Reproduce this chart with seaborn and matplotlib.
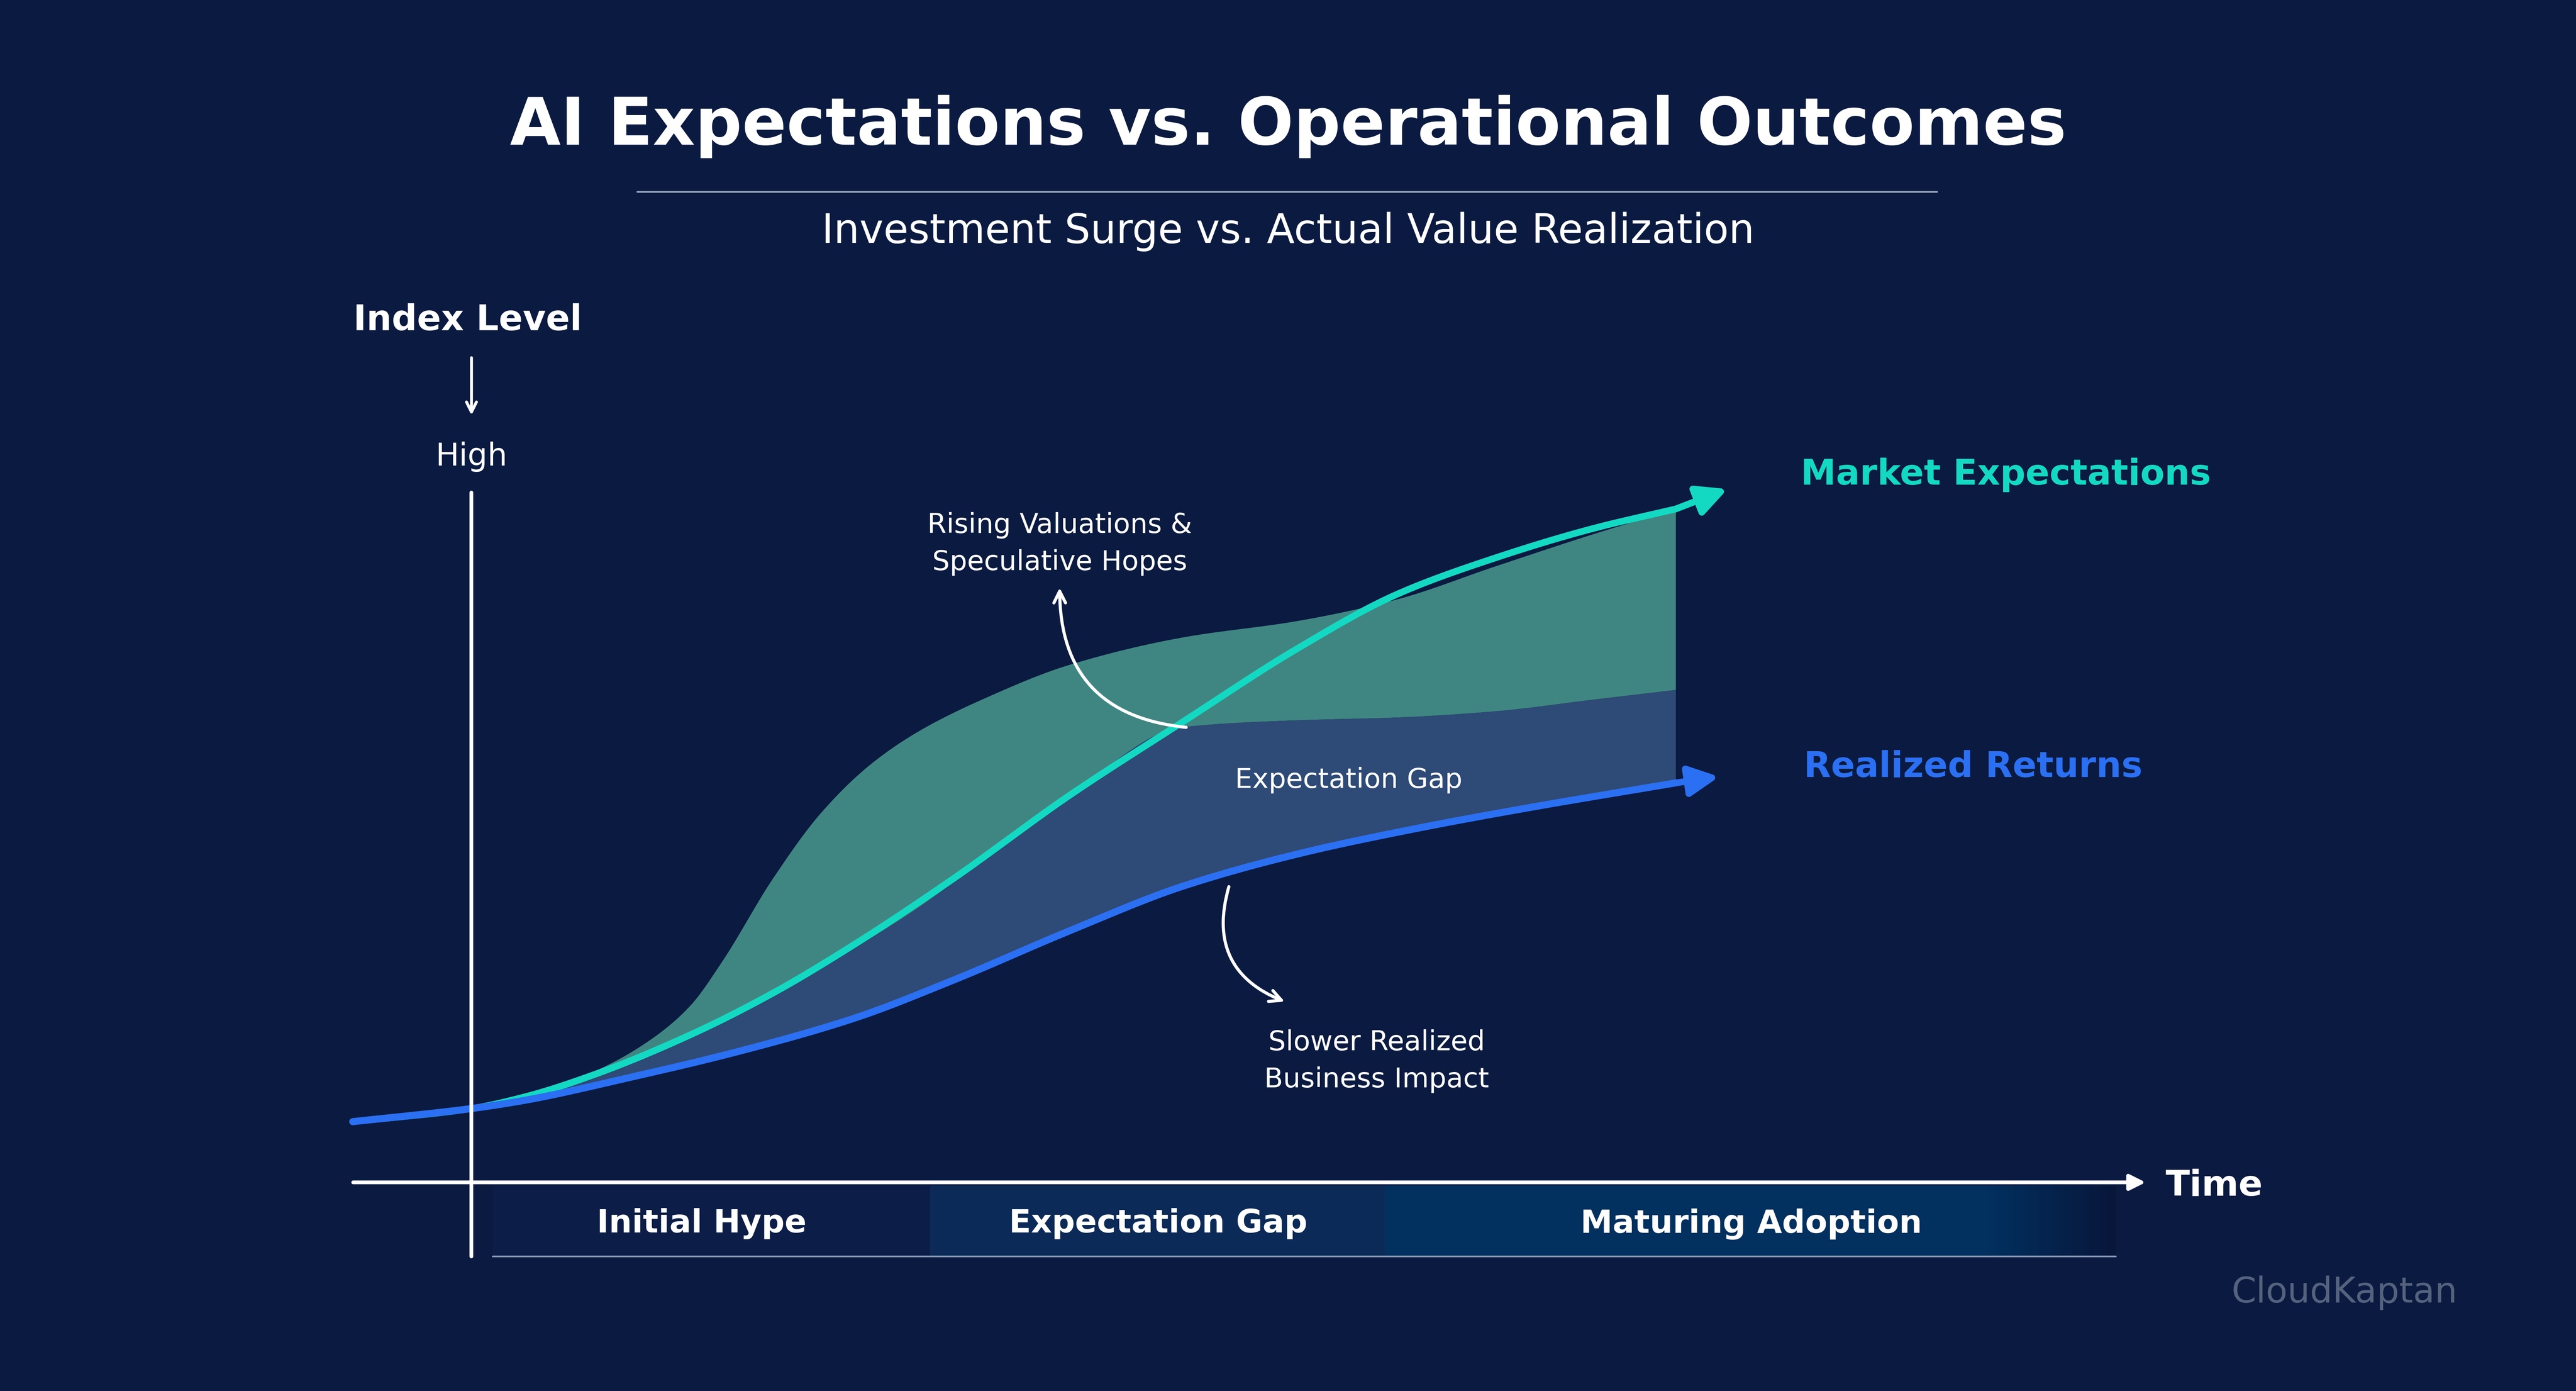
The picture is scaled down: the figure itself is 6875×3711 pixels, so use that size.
import numpy as np
import pandas as pd
import matplotlib
matplotlib.use("Agg")
import matplotlib.pyplot as plt
import seaborn as sns
from matplotlib.patches import FancyArrowPatch, Rectangle
from matplotlib.colors import LinearSegmentedColormap

sns.set_theme(style="white")
plt.rcParams['font.family'] = ['DejaVu Sans']

# ---------------- data ----------------
time_pts = [-7.1, 0, 3.2, 7.2, 13.1, 18.0, 22.9, 28.8, 35.7, 42.5, 49.4, 55.3, 61.2, 67.1, 72.0]
market_expect = [8.8, 10.7, 12.4, 15.5, 21.4, 27.4, 34.5, 44.0, 56.0, 66.7, 77.4, 85.2, 90.5, 94.8, 97.6]
market_tip = (75.1, 100.5)
real_time = [-7.1, 0, 3.2, 9.1, 16.0, 22.9, 28.8, 35.7, 42.5, 49.4, 56.3, 63.2, 72.0]
realized = [8.8, 10.7, 11.9, 15.0, 19.0, 23.8, 29.3, 36.4, 42.9, 47.6, 51.2, 54.3, 57.9]
real_tip = (74.6, 58.8)
band_time = [-7.1, 0, 4.2, 8.2, 11.1, 13.1, 15.0, 18.0, 20.9, 23.9, 26.8, 30.7, 35.7, 42.5, 49.4, 55.3, 61.2, 67.1, 72.0]
hype_envelope = [8.8, 10.7, 13.1, 17.1, 21.4, 25.7, 32.1, 44.0, 53.6, 60.7, 65.5, 70.2, 75.0, 79.0, 81.4, 84.5, 89.3, 94.0, 97.6]
gap_floor = [8.8, 10.7, 13.0, 16.8, 19.5, 21.4, 23.8, 27.4, 31.4, 35.5, 40.0, 47.0, 56.0, 66.0, 67.0, 67.4, 68.3, 70.0, 71.4]
phases = ["Initial Hype", "Expectation Gap", "Maturing Adoption"]

BG = "#0b1a40"
TEAL = "#14d9c2"
BLUE = "#2b6ff2"
GREEN_FILL = "#3f8682"
SLATE_FILL = "#2e4a76"

def pchip(x, y, n=600):
    x = np.asarray(x, float); y = np.asarray(y, float)
    h = np.diff(x); d = np.diff(y) / h
    m = np.zeros_like(y)
    for k in range(1, len(x) - 1):
        if d[k-1] * d[k] > 0:
            w1 = 2*h[k] + h[k-1]; w2 = h[k] + 2*h[k-1]
            m[k] = (w1 + w2) / (w1/d[k-1] + w2/d[k])
    m[0] = d[0]; m[-1] = d[-1]
    xs = np.linspace(x[0], x[-1], n)
    idx = np.clip(np.searchsorted(x, xs) - 1, 0, len(x) - 2)
    t = (xs - x[idx]) / h[idx]
    h00 = 2*t**3 - 3*t**2 + 1; h10 = t**3 - 2*t**2 + t
    h01 = -2*t**3 + 3*t**2; h11 = t**3 - t**2
    ys = h00*y[idx] + h10*h[idx]*m[idx] + h01*y[idx+1] + h11*h[idx]*m[idx+1]
    return xs, ys

fig = plt.figure(figsize=(17.1875, 9.28), dpi=400, facecolor=BG)
ax = fig.add_axes([0, 0, 1, 1])
ax.set_facecolor(BG)

def P(px, py):
    return ((px - 287) / 10.18, (720 - py) / 4.2)

# fills
bx, top = pchip(band_time, hype_envelope)
_, floor = pchip(band_time, gap_floor)
rx, rl = pchip(real_time, realized)
rl_i = np.interp(bx, rx, rl)
ax.fill_between(bx, floor, top, color=GREEN_FILL, lw=0, zorder=2)
ax.fill_between(bx, rl_i, floor, color=SLATE_FILL, lw=0, zorder=2)

# lines
mx, my = pchip(time_pts, market_expect)
df_m = pd.DataFrame({"t": mx, "v": my})
df_r = pd.DataFrame({"t": rx, "v": rl})
sns.lineplot(data=df_m, x="t", y="v", sort=False, color=TEAL, lw=3.2, ax=ax, zorder=4)
sns.lineplot(data=df_r, x="t", y="v", sort=False, color=BLUE, lw=3.4, ax=ax, zorder=5)
for (x0, y0), tip, c in [((time_pts[-1], market_expect[-1]), market_tip, TEAL),
                         ((real_time[-1], realized[-1]), real_tip, BLUE)]:
    ax.add_patch(FancyArrowPatch((x0, y0), tip, arrowstyle="-|>", mutation_scale=30,
                                 color=c, lw=3.2, zorder=6, shrinkA=0, shrinkB=0))

# axes lines
ax.plot(*zip(P(287, 300), P(287, 765)), color="white", lw=1.8, zorder=7)
ax.add_patch(FancyArrowPatch(P(215, 720), P(1306, 720), arrowstyle="-|>", mutation_scale=16,
                             color="white", lw=1.8, zorder=7, shrinkA=0, shrinkB=0))
ax.add_patch(FancyArrowPatch(P(287, 218), P(287, 253), arrowstyle="->", mutation_scale=12,
                             color="white", lw=1.4, zorder=7, shrinkA=0, shrinkB=0))

# bottom band
x_a = P(300, 0)[0]; x_b = P(566, 0)[0]; x_c = P(843, 0)[0]; x_d = P(1210, 0)[0]; x_e = P(1288, 0)[0]
y_t = P(0, 722)[1]; y_b = P(0, 765)[1]
ax.add_patch(Rectangle((x_a, y_b), x_b - x_a, y_t - y_b, color="#0c1d47", lw=0, zorder=1))
ax.add_patch(Rectangle((x_b, y_b), x_c - x_b, y_t - y_b, color="#0b2a57", lw=0, zorder=1))
ax.add_patch(Rectangle((x_c, y_b), x_d - x_c, y_t - y_b, color="#02305f", lw=0, zorder=1))
grad = np.linspace(0, 1, 100)[None, :]
cm = LinearSegmentedColormap.from_list("g", ["#02305f", "#08163a"])
ax.imshow(grad, cmap=cm, extent=(x_d, x_e, y_b, y_t), aspect="auto", zorder=1)
ax.set_xlim(-28.19, 125.83); ax.set_ylim(-30.24, 171.43); ax.axis("off")
ax.plot([x_a, x_e], [y_b, y_b], color="#8a9bb8", lw=0.8, zorder=2)
for name, cx in zip(phases, [427, 705, 1066]):
    ax.text(*P(cx, 745), name, color="white", fontsize=15.5, fontweight="bold", ha="center", va="center", zorder=8)

# texts
ax.text(*P(784, 77), "AI Expectations vs. Operational Outcomes", color="white", fontsize=31.5,
        fontweight="bold", ha="center", va="center")
ax.plot(*zip(P(388, 117), P(1179, 117)), color="#9aa6bf", lw=0.8)
ax.text(*P(784, 141), "Investment Surge vs. Actual Value Realization", color="white", fontsize=19.5,
        ha="center", va="center")
ax.text(*P(215, 195), "Index Level", color="white", fontsize=17, fontweight="bold", ha="left", va="center")
ax.text(*P(287, 278), "High", color="white", fontsize=15, ha="center", va="center")
ax.text(*P(1318, 722), "Time", color="white", fontsize=17, fontweight="bold", ha="left", va="center")
ax.text(*P(1096, 289), "Market Expectations", color=TEAL, fontsize=17, fontweight="bold", ha="left", va="center")
ax.text(*P(1098, 467), "Realized Returns", color=BLUE, fontsize=17, fontweight="bold", ha="left", va="center")
ax.text(*P(645, 331), "Rising Valuations &\nSpeculative Hopes", color="white", fontsize=13.2,
        ha="center", va="center", linespacing=1.5, zorder=8)
ax.text(*P(821, 475), "Expectation Gap", color="white", fontsize=13.2, ha="center", va="center", zorder=8)
ax.text(*P(838, 646), "Slower Realized\nBusiness Impact", color="white", fontsize=13.2,
        ha="center", va="center", linespacing=1.5, zorder=8)
ax.add_patch(FancyArrowPatch(P(722, 443), P(645, 358), connectionstyle="arc3,rad=-0.45",
                             arrowstyle="->", mutation_scale=14, color="white", lw=1.5, zorder=8,
                             shrinkA=0, shrinkB=0))
ax.add_patch(FancyArrowPatch(P(748, 540), P(782, 610), connectionstyle="arc3,rad=0.45",
                             arrowstyle="->", mutation_scale=14, color="white", lw=1.5, zorder=8,
                             shrinkA=0, shrinkB=0))
ax.text(*P(1427, 787), "CloudKaptan", color="#55627e", fontsize=17, ha="center", va="center")

fig.savefig("out.png", dpi=400, facecolor=BG)
